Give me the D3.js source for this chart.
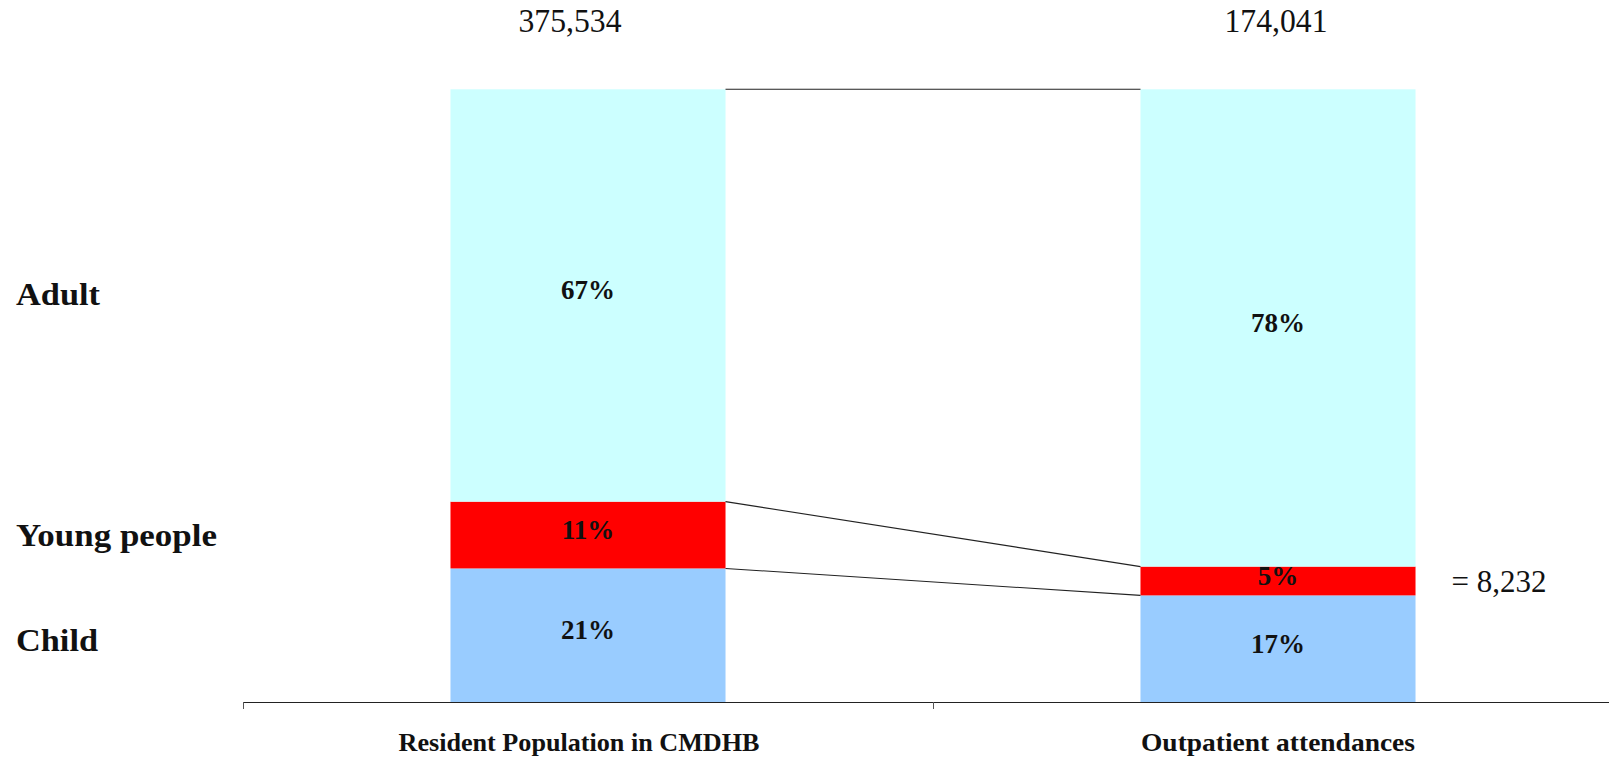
<!DOCTYPE html>
<html><head><meta charset="utf-8">
<script src="https://cdn.jsdelivr.net/npm/d3@7"></script>
<style>html,body{margin:0;padding:0;background:#fff;}svg{display:block;}</style>
</head><body>
<svg id="chart" width="1609" height="758"></svg>
<script>
// ---- data ----
const categories = ["Resident Population in CMDHB", "Outpatient attendances"];
const totals = ["375,534", "174,041"];
const groups = ["Child", "Young people", "Adult"];
const childPct = [21.8, 17.4];
const youngPct = [10.9, 4.7];
const adultPct = [67.3, 77.9];
const childLabels = ["21%", "17%"];
const youngLabels = ["11%", "5%"];
const adultLabels = ["67%", "78%"];
const youngCountNote = "= 8,232";
const colors = {"Child": "#99CCFF", "Young people": "#FF0000", "Adult": "#CCFFFF"};

const svg = d3.select("#chart");
const serif = "'Liberation Serif','Times New Roman',serif";

const x = d3.scaleBand().domain(categories).range([243, 1623]).paddingInner(0.6014).paddingOuter(0.3007);
const xEdge = d3.scaleLinear().domain([0, 2]).range([243, 1623]);
const y = d3.scaleLinear().domain([0, 100]).range([702, 89.3]);

const rows = categories.map((c, i) => ({cat: c, Child: childPct[i], "Young people": youngPct[i], Adult: adultPct[i],
  labels: {"Child": childLabels[i], "Young people": youngLabels[i], "Adult": adultLabels[i]}}));
const stack = d3.stack().keys(groups)(rows);

// bars
stack.forEach(layer => {
  svg.append("g").selectAll("rect").data(layer).join("rect")
    .attr("x", d => x(d.data.cat))
    .attr("width", x.bandwidth())
    .attr("y", d => y(d[1]))
    .attr("height", d => y(d[0]) - y(d[1]))
    .attr("fill", colors[layer.key]);
});

// connector lines
const cum = [ [childPct[0], childPct[1]], [childPct[0] + youngPct[0], childPct[1] + youngPct[1]], [100, 100] ];
svg.append("g").selectAll("line").data(cum).join("line")
  .attr("x1", x(categories[0]) + x.bandwidth())
  .attr("x2", x(categories[1]))
  .attr("y1", d => y(d[0]))
  .attr("y2", d => y(d[1]))
  .attr("stroke", "#222").attr("stroke-width", 1.1);

// percentage labels
stack.forEach(layer => {
  svg.append("g").selectAll("text").data(layer).join("text")
    .attr("x", d => x(d.data.cat) + x.bandwidth() / 2)
    .attr("y", d => (y(d[0]) + y(d[1])) / 2 + 4)
    .attr("text-anchor", "middle")
    .attr("font-family", serif).attr("font-weight", "bold").attr("font-size", 27)
    .attr("fill", "#111")
    .text(d => d.data.labels[layer.key]);
});

// axis
const axis = d3.axisBottom(xEdge).tickValues([0, 1, 2]).tickFormat("").tickSize(7).tickSizeOuter(0);
const ax = svg.append("g").attr("transform", "translate(0,702)").call(axis);
ax.select(".domain").attr("stroke", "#222").attr("stroke-width", 1.2);
ax.selectAll(".tick line").attr("stroke", "#555");

// category labels
const catOffsets = [-9, 0];
const catWidths = [361, 274];
svg.append("g").selectAll("text").data(categories).join("text")
  .attr("x", (d, i) => x(d) + x.bandwidth() / 2 + catOffsets[i])
  .attr("y", 751)
  .attr("text-anchor", "middle")
  .attr("font-family", serif).attr("font-weight", "bold").attr("font-size", 26)
  .attr("textLength", (d, i) => catWidths[i]).attr("lengthAdjust", "spacingAndGlyphs")
  .attr("fill", "#111")
  .text(d => d);

// totals on top
const totalOffsets = [-18, -2];
svg.append("g").selectAll("text").data(totals).join("text")
  .attr("x", (d, i) => x(categories[i]) + x.bandwidth() / 2 + totalOffsets[i])
  .attr("y", 32)
  .attr("text-anchor", "middle")
  .attr("font-family", serif).attr("font-size", 34)
  .attr("textLength", 103).attr("lengthAdjust", "spacingAndGlyphs")
  .attr("fill", "#111")
  .text(d => d);

// group labels on the left
const leftMid = stack.map(layer => ({key: layer.key, mid: (y(layer[0][0]) + y(layer[0][1])) / 2}));
const groupDy = {"Adult": 10, "Young people": 11, "Child": 16};
const groupWidths = {"Adult": 84, "Young people": 201, "Child": 82};
svg.append("g").selectAll("text").data(leftMid).join("text")
  .attr("x", 16)
  .attr("y", d => d.mid + groupDy[d.key])
  .attr("font-family", serif).attr("font-weight", "bold").attr("font-size", 32)
  .attr("textLength", d => groupWidths[d.key]).attr("lengthAdjust", "spacingAndGlyphs")
  .attr("fill", "#111")
  .text(d => d.key);

// young people count note
const youngLayer = stack[1][1];
svg.append("text")
  .attr("x", x(categories[1]) + x.bandwidth() + 36)
  .attr("y", (y(youngLayer[0]) + y(youngLayer[1])) / 2 + 11)
  .attr("font-family", serif).attr("font-size", 31)
  .attr("fill", "#111")
  .text(youngCountNote);
</script>
</body></html>
